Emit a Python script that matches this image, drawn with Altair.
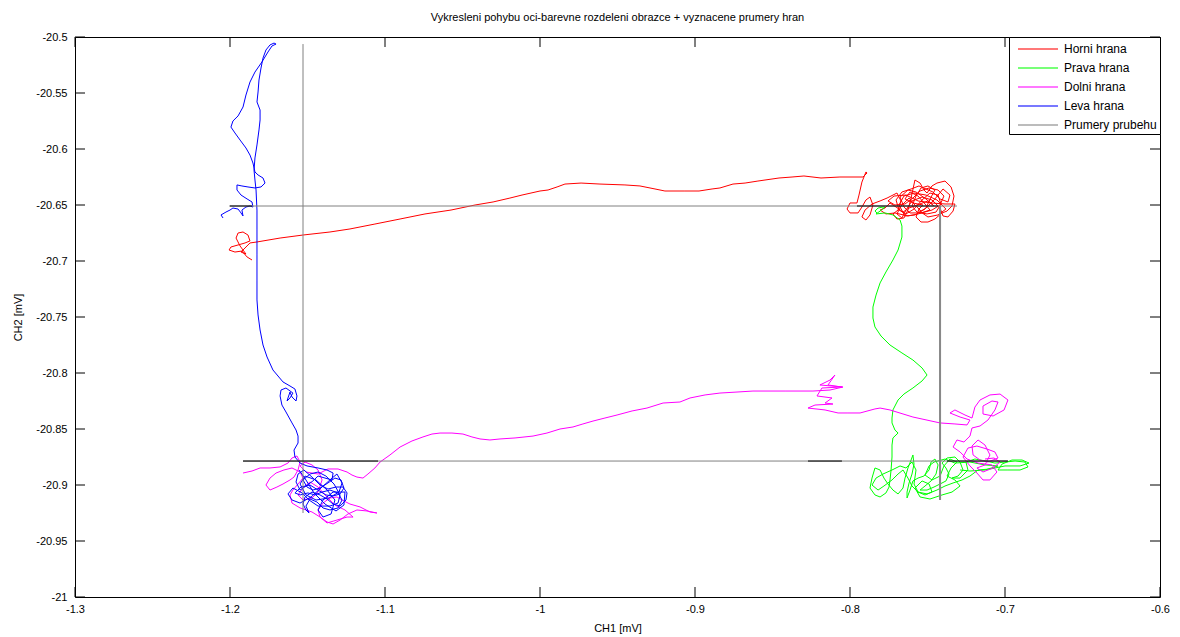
import altair as alt
import pandas as pd

FONT = "Liberation Sans"

SERIES = ["Horni hrana", "Prava hrana", "Dolni hrana", "Leva hrana", "Prumery prubehu"]
COLORS = ["#ff0000", "#00ff00", "#ff00ff", "#0000ff", "#808080"]

X_TICKS = [-1.3, -1.2, -1.1, -1.0, -0.9, -0.8, -0.7, -0.6]
Y_TICKS = [-21.0, -20.95, -20.9, -20.85, -20.8, -20.75, -20.7, -20.65, -20.6, -20.55, -20.5]

RED_X = [-1.1858, -1.1890, -1.1923, -1.1968, -1.2006, -1.1994, -1.1948, -1.1903, -1.1871, -1.1884,
         -1.1916, -1.1948, -1.1961, -1.1935, -1.1916, -1.1897, -1.1929, -1.1871, -1.1826, -1.1677,
         -1.1529, -1.1355, -1.1226, -1.1065, -1.0903, -1.0742, -1.0574, -1.0419, -1.0303, -1.0194,
         -1.0116, -1.0000, -0.9948, -0.9890, -0.9839, -0.9735, -0.9613, -0.9452, -0.9355, -0.9258,
         -0.9194, -0.9065, -0.8974, -0.8890, -0.8839, -0.8755, -0.8677, -0.8594, -0.8458, -0.8374,
         -0.8297, -0.8187, -0.8065, -0.7916, -0.7890, -0.7897, -0.7923, -0.7942, -0.7955,
         -0.8000, -0.8019, -0.8000, -0.7948, -0.7923, -0.7897, -0.7871, -0.7852, -0.7871, -0.7897,
         -0.7923, -0.7903, -0.7858, -0.7806, -0.7761, -0.7697, -0.7671, -0.7690, -0.7723, -0.7697,
         -0.7652, -0.7626, -0.7606, -0.7581, -0.7548, -0.7523, -0.7503, -0.7471, -0.7439, -0.7387,
         -0.7348, -0.7329, -0.7342, -0.7374, -0.7406, -0.7452, -0.7497, -0.7542, -0.7574, -0.7555,
         -0.7529, -0.7594, -0.7645, -0.7613, -0.7561, -0.7516, -0.7484, -0.7542, -0.7613, -0.7652,
         -0.7677, -0.7626, -0.7574, -0.7510, -0.7458, -0.7497, -0.7568, -0.7619, -0.7658, -0.7703,
         -0.7742, -0.7774, -0.7806, -0.7768, -0.7710, -0.7626, -0.7561, -0.7471, -0.7419, -0.7394,
         -0.7432, -0.7490, -0.7548, -0.7594, -0.7645, -0.7710, -0.7755, -0.7716, -0.7639, -0.7561,
         -0.7477, -0.7387, -0.7323, -0.7335, -0.7368, -0.7400, -0.7419, -0.7471, -0.7535, -0.7600,
         -0.7639, -0.7665, -0.7697, -0.7671, -0.7619,
         -0.7581, -0.7542, -0.7510, -0.7477, -0.7452, -0.7497, -0.7542, -0.7574, -0.7600, -0.7568,
         -0.7503, -0.7445, -0.7413, -0.7432, -0.7484, -0.7535, -0.7587, -0.7639, -0.7684, -0.7703,
         -0.7665, -0.7606, -0.7555, -0.7465, -0.7419, -0.7368, -0.7355, -0.7400, -0.7452, -0.7516,
         -0.7581, -0.7645, -0.7684, -0.7652, -0.7587, -0.7510, -0.7439, -0.7381, -0.7432, -0.7497,
         -0.7561]
RED_Y = [-20.6991, -20.6964, -20.6911, -20.6920, -20.6902, -20.6875, -20.6857, -20.6839, -20.6821, -20.6768,
         -20.6741, -20.6750, -20.6795, -20.6866, -20.6902, -20.6938, -20.6920, -20.6839, -20.6830, -20.6795,
         -20.6768, -20.6741, -20.6714, -20.6670, -20.6625, -20.6580, -20.6545, -20.6500, -20.6473, -20.6438,
         -20.6411, -20.6375, -20.6366, -20.6339, -20.6313, -20.6304, -20.6313, -20.6321, -20.6330, -20.6357,
         -20.6375, -20.6375, -20.6375, -20.6357, -20.6348, -20.6313, -20.6304, -20.6286, -20.6259, -20.6250,
         -20.6241, -20.6259, -20.6250, -20.6250, -20.6214, -20.6205, -20.6295, -20.6411, -20.6482,
         -20.6482, -20.6536, -20.6571, -20.6571, -20.6518, -20.6455, -20.6429, -20.6500, -20.6589, -20.6634,
         -20.6607, -20.6545, -20.6491, -20.6464, -20.6438, -20.6393, -20.6464, -20.6545, -20.6580, -20.6625,
         -20.6616, -20.6545, -20.6438, -20.6277, -20.6304, -20.6366, -20.6393, -20.6330, -20.6304, -20.6286,
         -20.6339, -20.6420, -20.6509, -20.6554, -20.6571, -20.6625, -20.6652, -20.6652, -20.6607, -20.6536,
         -20.6500, -20.6482, -20.6446, -20.6384, -20.6420, -20.6491, -20.6545, -20.6571, -20.6571, -20.6518,
         -20.6429, -20.6366, -20.6384, -20.6446, -20.6509, -20.6464, -20.6500, -20.6527, -20.6563, -20.6518,
         -20.6482, -20.6527, -20.6545, -20.6580, -20.6571, -20.6598, -20.6580, -20.6545, -20.6500, -20.6420,
         -20.6366, -20.6348, -20.6375, -20.6438, -20.6491, -20.6500, -20.6464, -20.6420, -20.6411, -20.6464,
         -20.6482, -20.6491, -20.6491, -20.6554, -20.6607, -20.6598, -20.6527, -20.6455, -20.6429, -20.6464,
         -20.6545, -20.6616, -20.6580, -20.6509, -20.6438,
         -20.6500, -20.6554, -20.6527, -20.6429, -20.6366, -20.6330, -20.6348, -20.6420, -20.6509, -20.6563,
         -20.6580, -20.6563, -20.6491, -20.6411, -20.6393, -20.6455, -20.6536, -20.6580, -20.6545, -20.6455,
         -20.6384, -20.6357, -20.6330, -20.6384, -20.6446, -20.6473, -20.6411, -20.6357, -20.6446, -20.6536,
         -20.6589, -20.6598, -20.6500, -20.6420, -20.6393, -20.6411, -20.6455, -20.6536, -20.6589, -20.6607,
         -20.6545]

GREEN_X = [-0.7826, -0.7839, -0.7819, -0.7787, -0.7774, -0.7806, -0.7832, -0.7774, -0.7723, -0.7677,
           -0.7665, -0.7665, -0.7690, -0.7723, -0.7768, -0.7806, -0.7832, -0.7852, -0.7852, -0.7839,
           -0.7800, -0.7742, -0.7665, -0.7594, -0.7535, -0.7503, -0.7535, -0.7594, -0.7652, -0.7690,
           -0.7723, -0.7729, -0.7729, -0.7710, -0.7690, -0.7723, -0.7729, -0.7729, -0.7735, -0.7742,
           -0.7748, -0.7768, -0.7806, -0.7839, -0.7871, -0.7858, -0.7839, -0.7806, -0.7781, -0.7755,
           -0.7723, -0.7690, -0.7658, -0.7645, -0.7626, -0.7606, -0.7594, -0.7587, -0.7600, -0.7619,
           -0.7632, -0.7632, -0.7613, -0.7594, -0.7561, -0.7523, -0.7490, -0.7477, -0.7452, -0.7432,
           -0.7445, -0.7477, -0.7516, -0.7548, -0.7503, -0.7458, -0.7419, -0.7381, -0.7361, -0.7381,
           -0.7406, -0.7374, -0.7323, -0.7290, -0.7271, -0.7303, -0.7342, -0.7290, -0.7239, -0.7252,
           -0.7194, -0.7123, -0.7065, -0.7000, -0.6935, -0.6871, -0.6852, -0.6903, -0.6981, -0.7045,
           -0.7019, -0.6955, -0.6890, -0.6845, -0.6903, -0.7000, -0.7097, -0.7174, -0.7226, -0.7277,
           -0.7335, -0.7387, -0.7439, -0.7503, -0.7561, -0.7600, -0.7626, -0.7658, -0.7690, -0.7729,
           -0.7781, -0.7819, -0.7858, -0.7832, -0.7787, -0.7729, -0.7677, -0.7639,
           -0.7600, -0.7574, -0.7587, -0.7561, -0.7516, -0.7471, -0.7490, -0.7535, -0.7581, -0.7548,
           -0.7484, -0.7406, -0.7342, -0.7290, -0.7323, -0.7374, -0.7348, -0.7310, -0.7355, -0.7394,
           -0.7419, -0.7471, -0.7516, -0.7490, -0.7458, -0.7387, -0.7323, -0.7226, -0.7129, -0.7045,
           -0.7129, -0.7226, -0.7290]
GREEN_Y = [-20.6571, -20.6554, -20.6527, -20.6518, -20.6518, -20.6554, -20.6580, -20.6571, -20.6589, -20.6634,
           -20.6688, -20.6786, -20.6902, -20.6991, -20.7098, -20.7196, -20.7304, -20.7411, -20.7509, -20.7589,
           -20.7670, -20.7750, -20.7821, -20.7884, -20.7955, -20.8018, -20.8071, -20.8134, -20.8188, -20.8241,
           -20.8330, -20.8402, -20.8446, -20.8509, -20.8536, -20.8580, -20.8643, -20.8750, -20.8866, -20.8955,
           -20.9018, -20.9071, -20.9107, -20.9089, -20.9027, -20.8938, -20.8848, -20.8866, -20.8938, -20.8991,
           -20.9045, -20.9080, -20.9027, -20.8938, -20.8848, -20.8777, -20.8732, -20.8813, -20.8902, -20.8982,
           -20.9063, -20.9116, -20.9045, -20.8964, -20.8938, -20.8920, -20.8866, -20.8795, -20.8768, -20.8821,
           -20.8902, -20.8964, -20.9009, -20.9045, -20.9045, -20.9018, -20.8991, -20.8964, -20.8902, -20.8848,
           -20.8804, -20.8759, -20.8750, -20.8795, -20.8866, -20.8920, -20.8938, -20.8938, -20.8866, -20.8795,
           -20.8768, -20.8786, -20.8804, -20.8795, -20.8786, -20.8795, -20.8839, -20.8866, -20.8866, -20.8866,
           -20.8813, -20.8777, -20.8777, -20.8804, -20.8830, -20.8830, -20.8857, -20.8866, -20.8920, -20.8955,
           -20.8982, -20.9009, -20.9045, -20.9080, -20.9063, -20.9009, -20.8938, -20.8866, -20.8902, -20.8955,
           -20.9009, -20.9045, -20.9000, -20.8938, -20.8902, -20.8866, -20.8830, -20.8848,
           -20.8795, -20.8866, -20.8991, -20.9063, -20.9089, -20.9063, -20.8991, -20.8964, -20.9027, -20.9107,
           -20.9125, -20.9089, -20.9063, -20.9009, -20.8955, -20.8920, -20.8848, -20.8795, -20.8768, -20.8830,
           -20.8920, -20.8955, -20.8911, -20.8830, -20.8795, -20.8768, -20.8804, -20.8795, -20.8821, -20.8830,
           -20.8866, -20.8875, -20.8866]

MAGENTA_X = [-1.1916, -1.1858, -1.1806, -1.1742, -1.1677, -1.1626, -1.1600, -1.1568, -1.1548, -1.1561,
             -1.1587, -1.1613, -1.1658, -1.1697, -1.1742, -1.1768, -1.1742, -1.1703, -1.1652, -1.1600,
             -1.1548, -1.1529, -1.1561, -1.1594, -1.1613, -1.1600, -1.1548, -1.1471, -1.1419, -1.1374,
             -1.1335, -1.1290, -1.1239, -1.1181, -1.1116, -1.1052, -1.1097, -1.1161, -1.1226, -1.1277,
             -1.1310, -1.1355, -1.1400, -1.1432, -1.1419, -1.1374, -1.1310, -1.1245, -1.1206, -1.1258,
             -1.1323, -1.1387, -1.1432, -1.1484, -1.1529, -1.1561, -1.1529, -1.1471, -1.1432, -1.1406,
             -1.1432, -1.1471, -1.1516, -1.1548, -1.1510, -1.1432, -1.1368, -1.1303, -1.1245, -1.1213,
             -1.1181, -1.1142, -1.1110, -1.1065, -1.1032, -1.0968, -1.0903, -1.0826, -1.0755, -1.0697,
             -1.0645, -1.0568, -1.0497, -1.0439, -1.0387, -1.0323, -1.0258, -1.0161, -1.0045, -0.9955,
             -0.9871, -0.9787, -0.9723, -0.9658, -0.9581, -0.9503, -0.9406, -0.9310, -0.9206, -0.9097,
             -0.9032, -0.8935, -0.8839, -0.8729, -0.8626, -0.8419, -0.8239, -0.8129, -0.8045, -0.8194,
             -0.8129, -0.8097, -0.8142, -0.8052, -0.8181, -0.8213, -0.8116, -0.8161, -0.8110, -0.8226,
             -0.8271, -0.8161, -0.8077, -0.8019, -0.7935, -0.7839, -0.7806, -0.7742, -0.7594, -0.7419,
             -0.7323, -0.7245, -0.7226, -0.7290, -0.7355, -0.7323, -0.7258, -0.7213, -0.7194, -0.7161,
             -0.7097, -0.7032, -0.6981, -0.7006, -0.7077, -0.7142, -0.7142, -0.7084, -0.7045, -0.7065,
             -0.7110, -0.7161, -0.7213, -0.7226, -0.7265, -0.7310, -0.7335, -0.7290, -0.7245, -0.7174,
             -0.7084, -0.7052, -0.7097, -0.7142, -0.7181, -0.7226, -0.7271, -0.7239, -0.7181, -0.7116,
             -0.7065, -0.7045, -0.7110, -0.7161, -0.7206, -0.7213, -0.7174, -0.7129, -0.7097, -0.7129,
             -0.7181, -0.7142, -0.7077, -0.7032, -0.7071, -0.7129]
MAGENTA_Y = [-20.8893, -20.8875, -20.8848, -20.8848, -20.8839, -20.8804, -20.8759, -20.8741, -20.8795, -20.8866,
             -20.8929, -20.8955, -20.8991, -20.9018, -20.9045, -20.9000, -20.8938, -20.8893, -20.8866, -20.8848,
             -20.8884, -20.8938, -20.8991, -20.9045, -20.9089, -20.9161, -20.9205, -20.9241, -20.9286, -20.9330,
             -20.9348, -20.9313, -20.9259, -20.9223, -20.9232, -20.9250, -20.9241, -20.9196, -20.9170, -20.9134,
             -20.9107, -20.9116, -20.9161, -20.9223, -20.9286, -20.9339, -20.9313, -20.9286, -20.9286, -20.9223,
             -20.9179, -20.9089, -20.9018, -20.8973, -20.9027, -20.9089, -20.9134, -20.9116, -20.9063, -20.8955,
             -20.8866, -20.8821, -20.8795, -20.8830, -20.8884, -20.8902, -20.8857, -20.8857, -20.8884, -20.8911,
             -20.8929, -20.8938, -20.8902, -20.8848, -20.8795, -20.8732, -20.8661, -20.8607, -20.8571, -20.8545,
             -20.8536, -20.8536, -20.8545, -20.8571, -20.8589, -20.8598, -20.8589, -20.8580, -20.8563, -20.8536,
             -20.8500, -20.8482, -20.8455, -20.8429, -20.8402, -20.8375, -20.8339, -20.8313, -20.8268, -20.8259,
             -20.8223, -20.8196, -20.8179, -20.8170, -20.8161, -20.8161, -20.8161, -20.8152, -20.8125, -20.8107,
             -20.8063, -20.8018, -20.8107, -20.8125, -20.8134, -20.8205, -20.8223, -20.8268, -20.8277, -20.8286,
             -20.8313, -20.8330, -20.8357, -20.8357, -20.8357, -20.8321, -20.8313, -20.8330, -20.8393, -20.8446,
             -20.8455, -20.8464, -20.8420, -20.8393, -20.8357, -20.8330, -20.8375, -20.8402, -20.8304, -20.8241,
             -20.8196, -20.8188, -20.8241, -20.8330, -20.8384, -20.8366, -20.8295, -20.8250, -20.8259, -20.8330,
             -20.8420, -20.8473, -20.8491, -20.8563, -20.8616, -20.8598, -20.8661, -20.8705, -20.8768, -20.8804,
             -20.8821, -20.8884, -20.8955, -20.8955, -20.8893, -20.8830, -20.8750, -20.8670, -20.8652, -20.8679,
             -20.8705, -20.8759, -20.8795, -20.8777, -20.8732, -20.8652, -20.8598, -20.8643, -20.8732, -20.8821,
             -20.8848, -20.8884, -20.8848, -20.8795, -20.8759, -20.8768]

BLUE_X = [-1.2045, -1.2058, -1.2026, -1.2000, -1.1981, -1.1948, -1.1929, -1.1916, -1.1923, -1.1897,
          -1.1871, -1.1852, -1.1858, -1.1890, -1.1929, -1.1955, -1.1955, -1.1923, -1.1884, -1.1839,
          -1.1800, -1.1774, -1.1787, -1.1819, -1.1839, -1.1852, -1.1871, -1.1897, -1.1935, -1.1968,
          -1.1994, -1.1981, -1.1948, -1.1916, -1.1897, -1.1871, -1.1839, -1.1794, -1.1755, -1.1729,
          -1.1703, -1.1716, -1.1742, -1.1768, -1.1787, -1.1800, -1.1813, -1.1819, -1.1826, -1.1806,
          -1.1806, -1.1813, -1.1826, -1.1839, -1.1845, -1.1839, -1.1832, -1.1826, -1.1826, -1.1826,
          -1.1826, -1.1826, -1.1819, -1.1806, -1.1787, -1.1761, -1.1723, -1.1658, -1.1613, -1.1581,
          -1.1568, -1.1574, -1.1600, -1.1613, -1.1626, -1.1632, -1.1613, -1.1594, -1.1639, -1.1671,
          -1.1677, -1.1665, -1.1639, -1.1600, -1.1574, -1.1561, -1.1561, -1.1587, -1.1581, -1.1548,
          -1.1503, -1.1432, -1.1374, -1.1335, -1.1342, -1.1387, -1.1432, -1.1465, -1.1510, -1.1548,
          -1.1574, -1.1561, -1.1523, -1.1471, -1.1419, -1.1368, -1.1316, -1.1271, -1.1245, -1.1252,
          -1.1290, -1.1335, -1.1374, -1.1419, -1.1471, -1.1516, -1.1529, -1.1510, -1.1490, -1.1510,
          -1.1484, -1.1439, -1.1400, -1.1355, -1.1303, -1.1277, -1.1303, -1.1355, -1.1406, -1.1452,
          -1.1497, -1.1548, -1.1581, -1.1542, -1.1484, -1.1432, -1.1381, -1.1335, -1.1290, -1.1265,
          -1.1284, -1.1323, -1.1368, -1.1419, -1.1465, -1.1503, -1.1529, -1.1484, -1.1432,
          -1.1381, -1.1329, -1.1290, -1.1303, -1.1355, -1.1432, -1.1490, -1.1535, -1.1594, -1.1626,
          -1.1600, -1.1548, -1.1477, -1.1406, -1.1348, -1.1310, -1.1277, -1.1297, -1.1361, -1.1445,
          -1.1510, -1.1548, -1.1516, -1.1445, -1.1374, -1.1323, -1.1348, -1.1400, -1.1432, -1.1400,
          -1.1335, -1.1258, -1.1265, -1.1316, -1.1387, -1.1458, -1.1510, -1.1555]
BLUE_Y = [-20.6616, -20.6589, -20.6563, -20.6545, -20.6527, -20.6536, -20.6571, -20.6598, -20.6545, -20.6518,
          -20.6509, -20.6518, -20.6473, -20.6446, -20.6411, -20.6366, -20.6321, -20.6330, -20.6339, -20.6348,
          -20.6339, -20.6304, -20.6259, -20.6232, -20.6205, -20.6125, -20.6054, -20.5991, -20.5920, -20.5857,
          -20.5804, -20.5750, -20.5705, -20.5625, -20.5518, -20.5402, -20.5313, -20.5223, -20.5134, -20.5080,
          -20.5063, -20.5054, -20.5071, -20.5116, -20.5188, -20.5277, -20.5384, -20.5491, -20.5580, -20.5652,
          -20.5741, -20.5830, -20.5964, -20.6080, -20.6188, -20.6277, -20.6366, -20.6545, -20.6723, -20.6946,
          -20.7170, -20.7348, -20.7482, -20.7616, -20.7750, -20.7857, -20.7973, -20.8080, -20.8116, -20.8143,
          -20.8205, -20.8250, -20.8214, -20.8170, -20.8223, -20.8250, -20.8223, -20.8179, -20.8134, -20.8152,
          -20.8205, -20.8286, -20.8348, -20.8446, -20.8509, -20.8563, -20.8625, -20.8688, -20.8750, -20.8804,
          -20.8830, -20.8848, -20.8866, -20.8893, -20.8955, -20.8938, -20.8920, -20.8964, -20.9009, -20.9045,
          -20.8973, -20.8902, -20.8866, -20.8929, -20.9000, -20.9036, -20.9018, -20.9018, -20.9071, -20.9134,
          -20.9188, -20.9170, -20.9125, -20.9089, -20.9063, -20.9107, -20.9170, -20.9223, -20.9250, -20.9188,
          -20.9125, -20.9152, -20.9205, -20.9223, -20.9205, -20.9134, -20.9071, -20.9045, -20.9063, -20.9089,
          -20.9071, -20.9089, -20.9071, -20.9018, -20.9000, -20.9045, -20.9089, -20.9098, -20.9080, -20.9027,
          -20.8955, -20.8938, -20.8982, -20.9027, -20.9045, -20.9018, -20.8955, -20.8902, -20.8884,
          -20.8920, -20.8991, -20.9089, -20.9161, -20.9188, -20.9188, -20.9134, -20.9071, -20.9027, -20.9080,
          -20.9134, -20.9161, -20.9107, -20.9018, -20.8946, -20.8902, -20.8982, -20.9063, -20.9116, -20.9134,
          -20.9089, -20.8991, -20.8920, -20.8955, -20.9045, -20.9134, -20.9259, -20.9286, -20.9223, -20.9134,
          -20.9063, -20.9063, -20.9179, -20.9232, -20.9170, -20.9071, -20.8955, -20.8866]

# mean lines (Prumery prubehu)
MEAN_X1 = [-1.2006, -1.1529, -0.7419, -1.1916]
MEAN_X2 = [-0.7310, -1.1529, -0.7419, -0.6981]
MEAN_Y1 = [-20.6509, -20.5063, -20.6509, -20.8786]
MEAN_Y2 = [-20.6509, -20.9250, -20.9134, -20.8786]
# darker overlapping parts of the mean lines
DARK_X1 = [-1.2000, -0.7955, -1.1916, -0.8271, -0.7374]
DARK_X2 = [-1.1858, -0.7432, -1.1045, -0.8052, -0.6981]
DARK_Y = [-20.6509, -20.6509, -20.8786, -20.8786, -20.8786]

rows = []
for name, xs, ys in [(SERIES[0], RED_X, RED_Y), (SERIES[1], GREEN_X, GREEN_Y),
                     (SERIES[2], MAGENTA_X, MAGENTA_Y), (SERIES[3], BLUE_X, BLUE_Y)]:
    for i, (xv, yv) in enumerate(zip(xs, ys)):
        rows.append({"series": name, "i": i, "x": xv, "y": yv})
df = pd.DataFrame(rows)

mean_df = pd.DataFrame({"series": SERIES[4], "k": list(range(len(MEAN_X1))),
                        "x": MEAN_X1, "x2": MEAN_X2, "y": MEAN_Y1, "y2": MEAN_Y2})
dark_df = pd.DataFrame({"x": DARK_X1, "x2": DARK_X2, "y": DARK_Y})
xt_df = pd.DataFrame({"x": X_TICKS})
yt_df = pd.DataFrame({"y": Y_TICKS})

W, H = 1085, 560
MINUS = "\u2212"

x_scale = alt.Scale(domain=[-1.3, -0.6], nice=False, zero=False)
y_scale = alt.Scale(domain=[-21.0, -20.5], nice=False, zero=False)
x_axis = alt.Axis(values=X_TICKS, format=".1~f", labelExpr=f"replace(datum.label, '{MINUS}', '-')",
                  title="CH1 [mV]", ticks=False, domain=False, grid=False, labelFlush=False,
                  labelOverlap=False, labelPadding=6, titlePadding=8)
y_axis = alt.Axis(values=Y_TICKS, format=".2~f", labelExpr=f"replace(datum.label, '{MINUS}', '-')",
                  title="CH2 [mV]", ticks=False, domain=False, grid=False, labelFlush=False,
                  labelOverlap=False, labelPadding=8, titlePadding=12)
color_scale = alt.Scale(domain=SERIES, range=COLORS)
legend = alt.Legend(
    title=None, orient="top-right", offset=0, strokeColor="black", fillColor="white",
    padding=3, symbolType="M-0.375,0H4.625", symbolSize=256, symbolStrokeWidth=1.6,
    symbolOpacity=0.7,
    labelFont=FONT, labelFontSize=12, labelColor="black", labelOffset=34,
    labelExpr="datum.label + '\u00a0\u00a0'",
    rowPadding=4, cornerRadius=0, labelLimit=200,
)

X = lambda f="x": alt.X(f"{f}:Q", scale=x_scale, axis=x_axis)
Y = lambda f="y": alt.Y(f"{f}:Q", scale=y_scale, axis=y_axis)

lines = alt.Chart(df).mark_line(strokeWidth=1, clip=True).encode(
    x=X(), y=Y(),
    color=alt.Color("series:N", scale=color_scale, legend=legend),
    order="i:Q",
    detail="series:N",
)

means = alt.Chart(mean_df).mark_rule(strokeWidth=1).encode(
    x=X(), x2="x2:Q", y=Y(), y2="y2:Q",
    color=alt.Color("series:N", scale=color_scale, legend=None),
)

thick = alt.Chart(mean_df).transform_filter(alt.datum.k == 2).mark_rule(
    strokeWidth=2, color="#888888").encode(x=X(), x2="x2:Q", y=Y(), y2="y2:Q")

dark = alt.Chart(dark_df).mark_rule(strokeWidth=1, color="black").encode(
    x=X(), x2="x2:Q", y=Y())

tick_len = 10
ticks_bottom = alt.Chart(xt_df).mark_rule(color="black", strokeWidth=1).encode(
    x=X(), y=alt.value(H), y2=alt.value(H - tick_len))
ticks_top = alt.Chart(xt_df).mark_rule(color="black", strokeWidth=1).encode(
    x=X(), y=alt.value(0), y2=alt.value(tick_len))
ticks_left = alt.Chart(yt_df).mark_rule(color="black", strokeWidth=1).encode(
    y=Y(), x=alt.value(0), x2=alt.value(tick_len))
ticks_right = alt.Chart(yt_df).mark_rule(color="black", strokeWidth=1).encode(
    y=Y(), x=alt.value(W), x2=alt.value(W - tick_len))

chart = alt.layer(
    lines, means, thick, dark, ticks_bottom, ticks_top, ticks_left, ticks_right
).properties(
    width=W, height=H,
    title=alt.Title("Vykresleni pohybu oci-barevne rozdeleni obrazce + vyznacene prumery hran",
                    font=FONT, fontSize=11, fontWeight="normal", color="black",
                    anchor="middle", offset=8),
    autosize=alt.AutoSizeParams(type="none"),
    padding={"left": 75, "top": 37, "right": 20, "bottom": 40},
    background="white",
).configure_view(
    stroke="black", strokeWidth=1
).configure_axis(
    labelFont=FONT, titleFont=FONT, labelFontSize=11, titleFontSize=11,
    labelColor="black", titleColor="black", titleFontWeight="normal"
)

chart.save("out.html", embed_options={"renderer": "svg", "actions": False})
